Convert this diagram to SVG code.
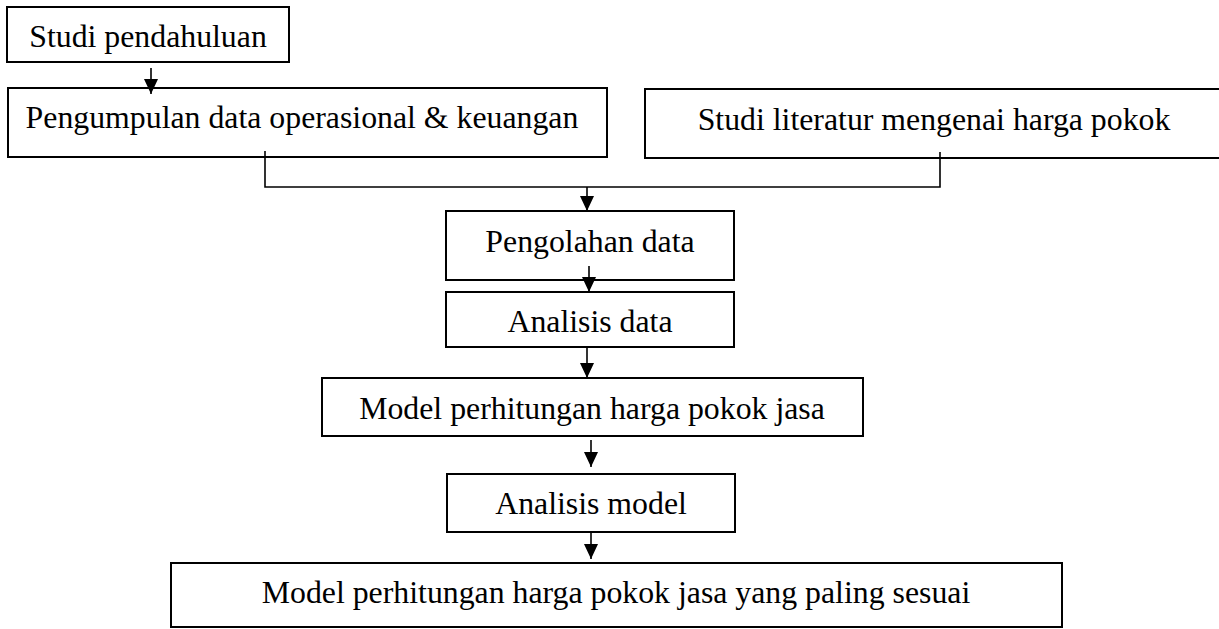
<svg xmlns="http://www.w3.org/2000/svg" width="1219" height="629" viewBox="0 0 1219 629">
<style>
.box{fill:#fff;stroke:#000;stroke-width:2}
.lbl{font-family:"Liberation Serif","Times New Roman",serif;font-size:31.8px;fill:#000;text-anchor:middle}
.con{fill:none;stroke:#000;stroke-width:1.6}
</style>
<defs>
<marker id="ah" markerUnits="userSpaceOnUse" markerWidth="16" markerHeight="15" refX="15" refY="7" orient="auto">
<path d="M0,0 L15,7 L0,14 Z" fill="#000"/>
</marker>
</defs>
<rect width="1219" height="629" fill="#fff"/>
<g id="n1"><rect class="box" x="7" y="7" width="282" height="55"/><text class="lbl" x="148" y="47">Studi pendahuluan</text></g>
<g id="n2"><rect class="box" x="8" y="88" width="599" height="69"/><text class="lbl" x="302" y="128">Pengumpulan data operasional &amp; keuangan</text></g>
<g id="n3"><rect class="box" x="645" y="89" width="580" height="69"/><text class="lbl" x="934" y="130">Studi literatur mengenai harga pokok</text></g>
<g id="n4"><rect class="box" x="446" y="211" width="288" height="69"/><text class="lbl" x="590" y="252">Pengolahan data</text></g>
<g id="n5"><rect class="box" x="446" y="292" width="288" height="55"/><text class="lbl" x="590" y="332">Analisis data</text></g>
<g id="n6"><rect class="box" x="322" y="378" width="541" height="58"/><text class="lbl" x="592" y="419">Model perhitungan harga pokok jasa</text></g>
<g id="n7"><rect class="box" x="447" y="474" width="288" height="58"/><text class="lbl" x="591" y="514">Analisis model</text></g>
<g id="n8"><rect class="box" x="171" y="563" width="891" height="64"/><text class="lbl" x="616" y="603">Model perhitungan harga pokok jasa yang paling sesuai</text></g>
<g id="connectors">
<line class="con" x1="151" y1="68" x2="151" y2="94" marker-end="url(#ah)"/>
<polyline class="con" points="265,151 265,187 940,187 940,152"/>
<line class="con" x1="587" y1="187" x2="587" y2="211" marker-end="url(#ah)"/>
<line class="con" x1="589" y1="266" x2="589" y2="292" marker-end="url(#ah)"/>
<line class="con" x1="587" y1="348" x2="587" y2="378" marker-end="url(#ah)"/>
<line class="con" x1="591" y1="440" x2="591" y2="467" marker-end="url(#ah)"/>
<line class="con" x1="591" y1="533" x2="591" y2="559" marker-end="url(#ah)"/>
</g>
</svg>
